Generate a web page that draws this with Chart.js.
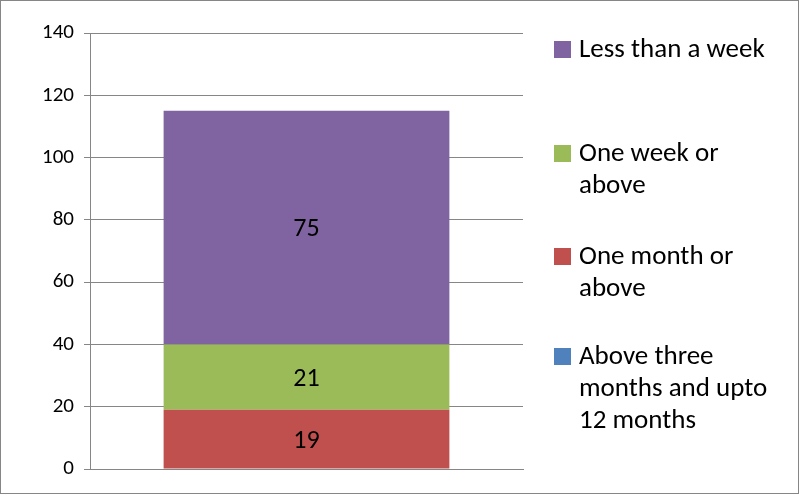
<!DOCTYPE html>
<html>
<head>
<meta charset="utf-8">
<script src="https://cdn.jsdelivr.net/npm/chart.js@4"></script>
<style>
  body { margin: 0; background: #fff; }
  #wrap { position: relative; width: 799px; height: 494px; }
  #frame { position: absolute; left: 0; top: 0; width: 797px; height: 492px; border: 1px solid #868686; pointer-events: none; }
  .leg { position: absolute; left: 554px; font: 27px Carlito, "Open Sans", sans-serif; color: #000; line-height: 32px; width: 245px; white-space: nowrap; }
  .leg span.box { position: absolute; left: 0; top: 9px; width: 17px; height: 17px; }
  .leg div { padding-left: 25px; }
</style>
</head>
<body>
<div id="wrap">
  <canvas id="c" width="799" height="494"></canvas>
  <div id="legend"></div>
  <div id="frame"></div>
</div>
<script>
// Dados do gráfico
const categories = [''];
const seriesNames = ['Above three months and upto 12 months', 'One month or above', 'One week or above', 'Less than a week'];
const seriesValues = [[0], [19], [21], [75]];
const seriesColors = ['#4f81bd', '#c0504d', '#9bbb59', '#8064a2'];
const yTicks = [0, 20, 40, 60, 80, 100, 120, 140];

// Legenda com quebra de linha (como no original)
const legendLines = [['Less than a week'], ['One week or', 'above'], ['One month or', 'above'], ['Above three', 'months and upto', '12 months']];
const legendColors = [seriesColors[3], seriesColors[2], seriesColors[1], seriesColors[0]];
const legendTops = [32, 136, 239, 339];
const legend = document.getElementById('legend');
legendLines.forEach((lines, i) => {
  const el = document.createElement('div');
  el.className = 'leg';
  el.style.top = legendTops[i] + 'px';
  el.innerHTML = `<span class="box" style="background:${legendColors[i]}"></span><div>${lines.join('<br>')}</div>`;
  legend.appendChild(el);
});

// Rótulos de dados no centro de cada segmento
const valueLabels = {
  id: 'valueLabels',
  afterDatasetsDraw(chart) {
    const ctx = chart.ctx;
    ctx.save();
    ctx.font = '26px Carlito, "Open Sans", sans-serif';
    ctx.fillStyle = '#000';
    ctx.textAlign = 'center';
    ctx.textBaseline = 'middle';
    chart.data.datasets.forEach((ds, i) => {
      chart.getDatasetMeta(i).data.forEach((bar, j) => {
        const v = ds.data[j];
        if (!v) return;
        const p = bar.getProps(['x', 'y', 'base'], true);
        ctx.fillText(v, p.x, (p.y + p.base) / 2 + 2);
      });
    });
    ctx.restore();
  }
};

new Chart(document.getElementById('c'), {
  type: 'bar',
  data: {
    labels: categories,
    datasets: seriesNames.map((name, i) => ({
      label: name,
      data: seriesValues[i],
      backgroundColor: seriesColors[i],
      categoryPercentage: 0.66,
      barPercentage: 1
    }))
  },
  options: {
    responsive: false,
    animation: false,
    layout: { padding: { left: 10, right: 276, top: 33, bottom: 25 } },
    plugins: { legend: { display: false }, tooltip: { enabled: false } },
    scales: {
      x: {
        stacked: true,
        grid: { display: false },
        border: { color: '#868686' },
        ticks: { display: false },
        afterFit(s) { s.height = 0; }
      },
      y: {
        stacked: true,
        min: 0, max: 140,
        afterBuildTicks(s) { s.ticks = yTicks.map(v => ({ value: v })); },
        afterFit(s) { s.width = 80; },
        grid: { color: '#868686', tickLength: 6 },
        border: { color: '#868686' },
        ticks: { color: '#000', font: { size: 21, family: 'Carlito, "Open Sans", sans-serif' }, padding: 10 }
      }
    }
  },
  plugins: [valueLabels]
});
</script>
</body>
</html>
